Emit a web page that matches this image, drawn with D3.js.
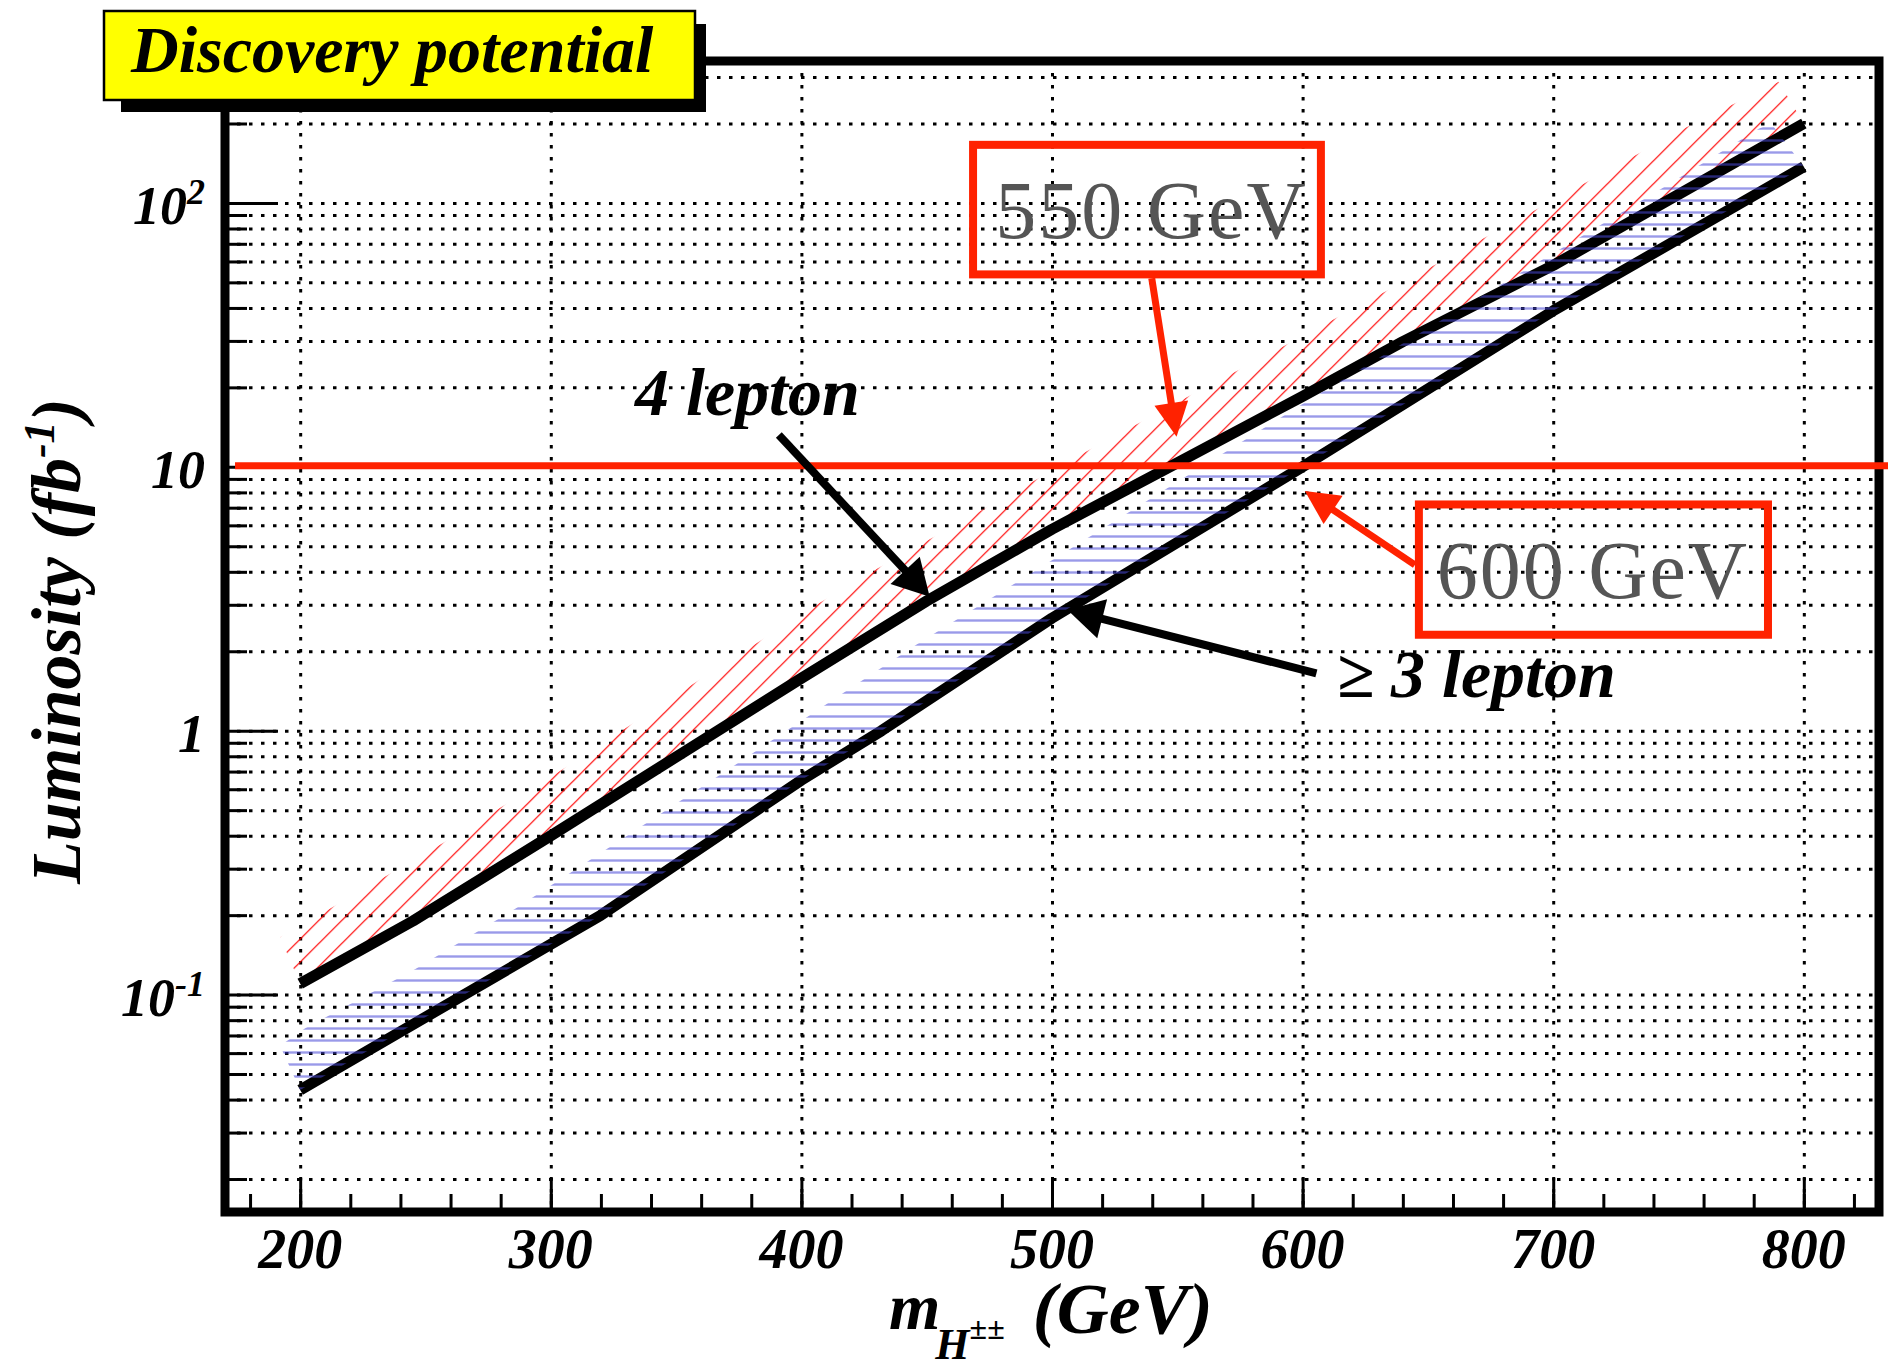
<!DOCTYPE html>
<html>
<head>
<meta charset="utf-8">
<script src="https://cdn.jsdelivr.net/npm/d3@7"></script>
<style>
  body { margin: 0; background: #fff; }
  svg { display: block; }
</style>
</head>
<body>
<div id="chart"></div>
<script>
// ---- data (mass in GeV, luminosity in fb^-1) ----
const upperMass = [200, 245, 300, 400, 450, 500, 547, 600, 640, 700, 800];   // 4 lepton
const upperLumi = [0.11, 0.19, 0.40, 1.58, 3.1, 5.8, 10, 18.5, 29.8, 58, 200];

const lowerMass = [200, 300, 320, 400, 432, 500, 600, 640, 700, 800];        // >= 3 lepton
const lowerLumi = [0.0435, 0.155, 0.2, 0.65, 1.0, 2.67, 10.0, 17.2, 39, 137];

// outer edges of the hatched bands
const redEdgeMass = [192, 212, 257, 304, 358, 406, 430, 515, 554, 593, 652, 712, 753, 790];
const redEdgeLumi = [0.165, 0.212, 0.375, 0.706, 1.53, 3.0, 4.1, 11.6, 18.4, 28.8, 57.7, 118, 193, 288];

const blueEdgeMass = [192, 202, 246, 286, 330, 374, 417, 446, 515, 553, 600, 655, 703, 743, 782, 787];
const blueEdgeLumi = [0.064, 0.0745, 0.125, 0.212, 0.397, 0.747, 1.395, 2.12, 5.43, 9.13, 17.3, 35.8, 67.1, 113, 191, 200];

const refLumi = 10.1;      // red horizontal reference line

// axes
const xMajor = [200, 300, 400, 500, 600, 700, 800];
const xMinor = d3.range(180, 830, 20);
const yMajor = [0.1, 1, 10, 100];
const yLabelBase = ["10", "1", "10", "10"];
const yLabelExp = ["-1", "", "", "2"];
const yMinor = [0.01, 0.1, 1, 10, 100].flatMap(d => [2, 3, 4, 5, 6, 7, 8, 9].map(k => +(k * d).toPrecision(2)))
    .filter(v => v > 0.015 && v < 345);

// ---- layout ----
const W = 1888, H = 1371;
const serif = "'Liberation Serif', 'Times New Roman', serif";

const x = d3.scaleLinear().domain([170, 830]).range([225, 1879]);
const y = d3.scaleLog().domain([0.015, 345]).range([1212, 61]);

const svg = d3.select("#chart").append("svg")
    .attr("width", W).attr("height", H)
    .style("background", "#fff");

const defs = svg.append("defs");
defs.append("clipPath").attr("id", "plotClip")
    .append("rect")
    .attr("x", x(170)).attr("y", y(345))
    .attr("width", x(830) - x(170)).attr("height", y(0.015) - y(345));

// red "/" hatch
const redPat = defs.append("pattern").attr("id", "redHatch")
    .attr("patternUnits", "userSpaceOnUse")
    .attr("width", 23).attr("height", 23)
    .attr("patternTransform", "translate(20.3,0)");
redPat.append("path")
    .attr("d", "M-3,3 L3,-3 M0,23 L23,0 M20,26 L26,20")
    .attr("stroke", "#ff0000").attr("stroke-width", 1.2);

// blue horizontal hatch
const bluePat = defs.append("pattern").attr("id", "blueHatch")
    .attr("patternUnits", "userSpaceOnUse")
    .attr("width", 12).attr("height", 12);
bluePat.append("rect")
    .attr("x", 0).attr("y", 7.3).attr("width", 12).attr("height", 2.4)
    .attr("fill", "rgb(70,70,215)").attr("fill-opacity", 0.55);

const zip = (a, b) => a.map((v, i) => [v, b[i]]);
const upper = zip(upperMass, upperLumi);
const lower = zip(lowerMass, lowerLumi);
const redEdge = zip(redEdgeMass, redEdgeLumi);
const blueEdge = zip(blueEdgeMass, blueEdgeLumi);

const line = d3.line().x(d => x(d[0])).y(d => y(d[1]));

// ---- grid ----
const gridStyle = sel => sel.selectAll("line")
    .attr("stroke", "#000").attr("stroke-width", 3).attr("stroke-dasharray", "3.5 8.5");

svg.append("g")
    .attr("transform", `translate(${x(170)},0)`)
    .call(d3.axisRight(y).tickValues(yMajor.concat(yMinor)).tickSize(x(830) - x(170)).tickFormat(""))
    .call(g => g.select(".domain").remove())
    .call(gridStyle);

svg.append("g")
    .attr("transform", `translate(0,${y(345)})`)
    .call(d3.axisBottom(x).tickValues(xMajor).tickSize(y(0.015) - y(345)).tickFormat(""))
    .call(g => g.select(".domain").remove())
    .call(gridStyle);

// ---- hatched bands ----
const plot = svg.append("g").attr("clip-path", "url(#plotClip)");

plot.append("path")
    .attr("d", line(redEdge.concat(upper.slice().reverse())) + "Z")
    .attr("fill", "url(#redHatch)");

// ---- frame and ticks ----
svg.append("rect")
    .attr("x", x(170)).attr("y", y(345))
    .attr("width", x(830) - x(170)).attr("height", y(0.015) - y(345))
    .attr("fill", "none").attr("stroke", "#000").attr("stroke-width", 9);

const tickStyle = sel => sel.selectAll("line").attr("stroke", "#000").attr("stroke-width", 3);

svg.append("g").attr("transform", `translate(${x(170)},0)`)
    .call(d3.axisRight(y).tickValues(yMajor).tickSize(53).tickFormat(""))
    .call(g => g.select(".domain").remove()).call(tickStyle);
svg.append("g").attr("transform", `translate(${x(170)},0)`)
    .call(d3.axisRight(y).tickValues(yMinor).tickSize(22).tickFormat(""))
    .call(g => g.select(".domain").remove()).call(tickStyle);
svg.append("g").attr("transform", `translate(0,${y(0.015)})`)
    .call(d3.axisTop(x).tickValues(xMajor).tickSize(34).tickFormat(""))
    .call(g => g.select(".domain").remove()).call(tickStyle);
svg.append("g").attr("transform", `translate(0,${y(0.015)})`)
    .call(d3.axisTop(x).tickValues(xMinor).tickSize(18).tickFormat(""))
    .call(g => g.select(".domain").remove()).call(tickStyle);
svg.selectAll(".tick text").remove();

// ---- red reference line at 10 fb^-1 ----
svg.append("line")
    .attr("x1", x(174)).attr("x2", W)
    .attr("y1", y(refLumi)).attr("y2", y(refLumi))
    .attr("stroke", "#ff2200").attr("stroke-width", 7);

// ---- curves ----
[upper, lower].forEach(d => {
    plot.append("path")
        .datum(d)
        .attr("d", line)
        .attr("fill", "none")
        .attr("stroke", "#000")
        .attr("stroke-width", 11)
        .attr("stroke-linejoin", "round");
});

plot.append("path")
    .attr("d", line(blueEdge.concat(lower.slice().reverse())) + "Z")
    .attr("fill", "url(#blueHatch)");

// ---- tick labels ----
svg.append("g").selectAll("text")
    .data(xMajor)
    .join("text")
    .attr("x", d => x(d))
    .attr("y", 1268)
    .attr("text-anchor", "middle")
    .style("font-family", serif).style("font-weight", "bold").style("font-style", "italic")
    .style("font-size", "56px")
    .text(d => d);

yMajor.forEach((v, i) => {
    const t = svg.append("text")
        .attr("x", 205).attr("y", y(v) + 21)
        .attr("text-anchor", "end")
        .style("font-family", serif).style("font-weight", "bold").style("font-style", "italic")
        .style("font-size", "54px");
    t.append("tspan").text(yLabelBase[i]);
    if (yLabelExp[i]) {
        t.append("tspan").attr("dy", -20).style("font-size", "36px").text(yLabelExp[i]);
    }
});

// ---- axis titles ----
const yTitle = svg.append("text")
    .attr("transform", "translate(80,641) rotate(-90)")
    .attr("text-anchor", "middle")
    .style("font-family", serif).style("font-weight", "bold").style("font-style", "italic")
    .style("font-size", "70px");
yTitle.append("tspan").text("Luminosity (fb");
yTitle.append("tspan").attr("dy", -26).style("font-size", "44px").text("-1");
yTitle.append("tspan").attr("dy", 26).text(")");

// m_{H^{±±}} (GeV) as one text run with shifted tspans
const xTitle = svg.append("text")
    .attr("x", 889).attr("y", 1329)
    .style("font-family", serif).style("font-weight", "bold").style("font-style", "italic")
    .style("font-size", "66px");
xTitle.append("tspan").text("m");
xTitle.append("tspan").attr("dx", -5).attr("dy", 30).style("font-size", "44px").text("H");
xTitle.append("tspan").attr("dy", -20).style("font-size", "32px").text("±±");
xTitle.append("tspan").attr("dx", 28).attr("dy", -6).style("font-size", "72px").text("(GeV)");

// ---- annotations (placed in data units) ----
function arrow(from, to, color, width, headLen, headHalf) {
    const x1 = x(from[0]), y1 = y(from[1]), x2 = x(to[0]), y2 = y(to[1]);
    const len = Math.hypot(x2 - x1, y2 - y1), ux = (x2 - x1) / len, uy = (y2 - y1) / len;
    const bx = x2 - ux * headLen, by = y2 - uy * headLen;
    svg.append("line")
        .attr("x1", x1).attr("y1", y1).attr("x2", bx + ux * 4).attr("y2", by + uy * 4)
        .attr("stroke", color).attr("stroke-width", width);
    svg.append("path")
        .attr("d", `M${x2},${y2}L${bx - uy * headHalf},${by + ux * headHalf}L${bx + uy * headHalf},${by - ux * headHalf}Z`)
        .attr("fill", color);
}

function box(a, b) {
    svg.append("rect")
        .attr("x", x(a[0])).attr("y", y(a[1]))
        .attr("width", x(b[0]) - x(a[0])).attr("height", y(b[1]) - y(a[1]))
        .attr("fill", "none").attr("stroke", "#ff2200").attr("stroke-width", 8);
}

function label(pos, txt, size, opts) {
    return svg.append("text")
        .attr("x", x(pos[0])).attr("y", y(pos[1]))
        .style("font-family", serif).style("font-size", size + "px")
        .style("font-weight", opts.bold ? "bold" : "normal")
        .style("font-style", opts.italic ? "italic" : "normal")
        .style("letter-spacing", (opts.spacing || 0) + "px")
        .attr("fill", opts.color || "#000")
        .text(txt);
}

box([468.5, 166], [607.3, 53.6]);
label([477.4, 73.4], "550 GeV", 82, { color: "#555", spacing: 2 });
arrow([539.8, 51.8], [549.7, 13.0], "#ff2200", 7, 34, 17);

box([646.4, 7.2], [785.7, 2.31]);
label([653.5, 3.18], "600 GeV", 82, { color: "#555", spacing: 2 });
arrow([644.8, 4.25], [600.9, 8.1], "#ff2200", 7, 34, 17);

label([333.6, 15.7], "4 lepton", 68, { bold: true, italic: true });
arrow([391, 13.2], [451.2, 3.22], "#000", 8, 36, 20);

label([613.6, 1.345], "\u2265 3 lepton", 68, { bold: true, italic: true });
arrow([605.5, 1.65], [506.1, 2.87], "#000", 8, 36, 20);

// ---- title box ----
svg.append("rect")
    .attr("x", 121).attr("y", 24).attr("width", 585).attr("height", 88)
    .attr("fill", "#000");
svg.append("rect")
    .attr("x", 104).attr("y", 11).attr("width", 591).attr("height", 89)
    .attr("fill", "#ffff00").attr("stroke", "#000").attr("stroke-width", 2.5);
svg.append("text")
    .attr("x", 131).attr("y", 72)
    .style("font-family", serif).style("font-weight", "bold").style("font-style", "italic")
    .style("font-size", "66px")
    .text("Discovery potential");
</script>
</body>
</html>
